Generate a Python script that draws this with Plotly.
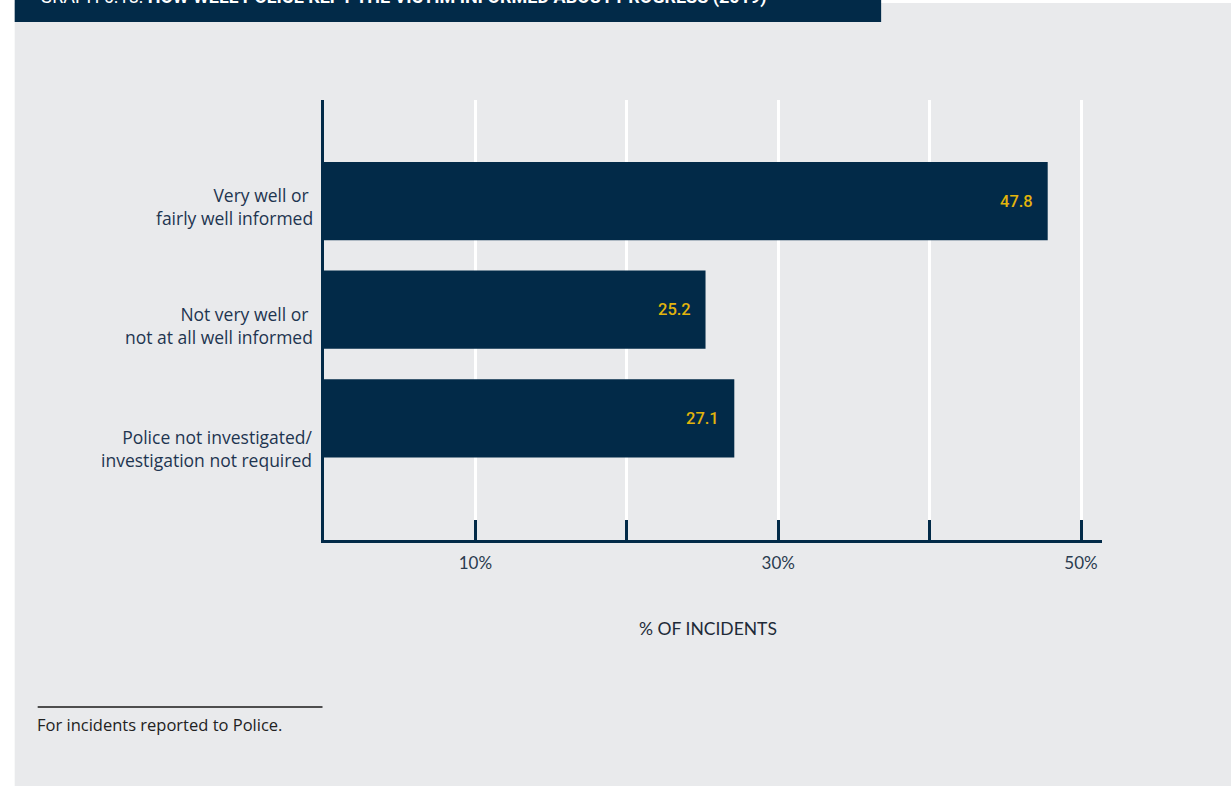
import plotly.graph_objects as go

categories = ["Very well or <br>fairly well informed",
              "Not very well or <br>not at all well informed",
              "Police not investigated/<br>investigation not required"]
values = [47.8, 25.2, 27.1]
value_labels = ["47.8", "25.2", "27.1"]
tick_vals = [10, 20, 30, 40, 50]
tick_text = ["10%", "", "30%", "", "50%"]

NAVY = "#022A48"
GRAY = "#E9EAEC"
GOLD = "#E2B40C"

W, H = 1231, 786
L, R, T, B = 323.5, 1102.0, 100.0, 540.0
label_shifts = [-5, -16, -30.5]

def px(x):
    return (x - L) / (R - L)

def py(y):
    return (B - y) / (B - T)

fig = go.Figure()
fig.add_trace(go.Bar(
    y=categories, x=values, orientation="h",
    marker=dict(color=NAVY, line=dict(width=0)),
    width=0.72, hoverinfo="skip",
))

for c, v, t, s in zip(categories, values, value_labels, label_shifts):
    fig.add_annotation(x=v, y=c, xref="x", yref="y", text=t, showarrow=False,
                       xanchor="right", yanchor="middle", xshift=-13,
                       font=dict(family="Roboto", size=16.5, color=GOLD, weight=500))
    fig.add_annotation(x=px(314), y=c, xref="paper", yref="y", text=c, showarrow=False,
                       xanchor="right", yanchor="middle", align="right", yshift=s,
                       font=dict(family="Open Sans", size=17.5, color="#1e3550"))

shapes = [
    dict(type="rect", xref="paper", yref="paper", x0=px(-5), x1=px(14), y0=py(H + 5), y1=py(-5),
         fillcolor="white", line=dict(width=0), layer="above"),
    dict(type="rect", xref="paper", yref="paper", x0=px(-5), x1=px(W + 5), y0=py(3), y1=py(-5),
         fillcolor="white", line=dict(width=0), layer="above"),
    dict(type="rect", xref="paper", yref="paper", x0=px(14), x1=px(881), y0=py(22), y1=py(-5),
         fillcolor=NAVY, line=dict(width=0), layer="above"),
    dict(type="line", xref="paper", yref="paper", x0=px(37), x1=px(322), y0=py(707), y1=py(707),
         line=dict(color="#1a1a1a", width=1.3), layer="above"),
]

fig.add_annotation(xref="paper", yref="paper", x=px(37), y=py(-3), xanchor="left", yanchor="middle",
                   text="GRAPH 6.18: <b>HOW WELL POLICE KEPT THE VICTIM INFORMED ABOUT PROGRESS (2019)</b>",
                   showarrow=False, font=dict(family="Roboto", size=18, color="white"))

fig.add_annotation(xref="paper", yref="paper", x=px(34), y=py(724), xanchor="left", yanchor="middle",
                   text="For incidents reported to Police.", showarrow=False,
                   font=dict(family="Open Sans", size=16.5, color="#222222"))

fig.add_annotation(xref="paper", yref="paper", x=px(708), y=py(628), xanchor="center", yanchor="middle",
                   text="% OF INCIDENTS", showarrow=False,
                   font=dict(family="Lato", size=17.5, color="#1e2a38"))

fig.update_layout(
    width=W, height=H,
    margin=dict(l=L, r=W - R, t=T, b=H - B, pad=0),
    paper_bgcolor=GRAY, plot_bgcolor=GRAY,
    showlegend=False,
    shapes=shapes,
    xaxis=dict(range=[0, (R - L) / 15.15], tickvals=tick_vals, ticktext=tick_text,
               showgrid=True, gridcolor="white", gridwidth=3,
               ticks="inside", ticklen=20, tickwidth=3, tickcolor=NAVY,
               showline=True, linecolor=NAVY, linewidth=3, zeroline=False,
               ticklabelstandoff=6,
               tickfont=dict(family="Lato", size=17, color="#2a3b4f"), fixedrange=True),
    yaxis=dict(type="category", categoryorder="array", categoryarray=categories,
               range=[3.12, -0.93], showgrid=False, zeroline=False,
               showline=True, linecolor=NAVY, linewidth=3, ticks="",
               showticklabels=False, fixedrange=True),
)

fig.write_html("out.html", config={"displayModeBar": False},
               post_script="document.body.style.margin='0px';")
